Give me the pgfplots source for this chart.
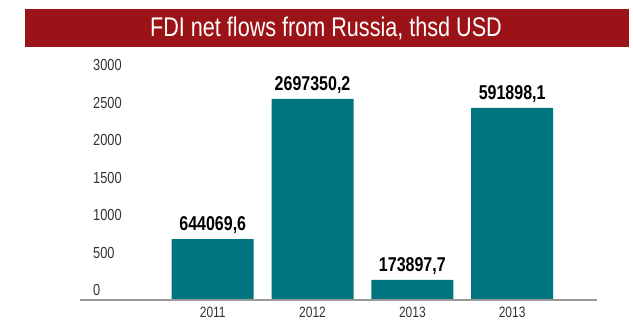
\documentclass[border=0pt]{standalone}
\usepackage{fontspec}
\setmainfont{Liberation Sans}
\newfontfamily\cond[FakeStretch=0.8]{Liberation Sans}
\usepackage{pgfplots}
\pgfplotsset{compat=1.18}
\definecolor{barteal}{HTML}{007580}
\definecolor{bannerred}{HTML}{9B1316}
\definecolor{axisgray}{HTML}{999999}
\begin{document}
\begin{tikzpicture}
  \path[use as bounding box] (-80pt,-20pt) rectangle (553pt,300pt);
  % title banner
  \fill[bannerred] (-55pt,253pt) rectangle (549pt,291pt);
  \node[text=white, font=\cond\fontsize{27}{30}\selectfont] at (246pt,272pt) {FDI net flows from Russia, thsd USD};
  \begin{axis}[
      at={(0,0)}, anchor=south west,
      scale only axis,
      width=517pt, height=225pt,
      xmin=-1.33, xmax=3.85,
      ymin=0, ymax=3000,
      axis line style={draw=none},
      tick style={draw=none},
      ytick={0,500,...,3000},
      xtick={0,1,2,3},
      xticklabels={2011,2012,2013,2013},
      /pgf/number format/assume math mode=true,
      /pgf/number format/1000 sep={},
      yticklabel style={anchor=west, inner sep=0pt, xshift=13pt, yshift=10pt,
        font=\cond\fontsize{16}{18}\selectfont, text=black!80},
      xticklabel style={anchor=north, inner sep=0pt, yshift=-2.5pt,
        font=\cond\fontsize{15}{17}\selectfont, text=black!80},
      ybar, bar width=82pt,
      nodes near coords,
      point meta=explicit symbolic,
      nodes near coords style={font=\cond\bfseries\fontsize{20}{22}\selectfont, yshift=2pt},
      clip=false,
    ]
    \addplot[fill=barteal, draw=none] coordinates {
      (0,813) [644069,6]
      (1,2680) [2697350,2]
      (2,267) [173897,7]
      (3,2560) [591898,1]
    };
    \draw[axisgray, line width=2pt] (axis cs:-1.33,0) -- (axis cs:3.85,0);
  \end{axis}
\end{tikzpicture}
\end{document}
